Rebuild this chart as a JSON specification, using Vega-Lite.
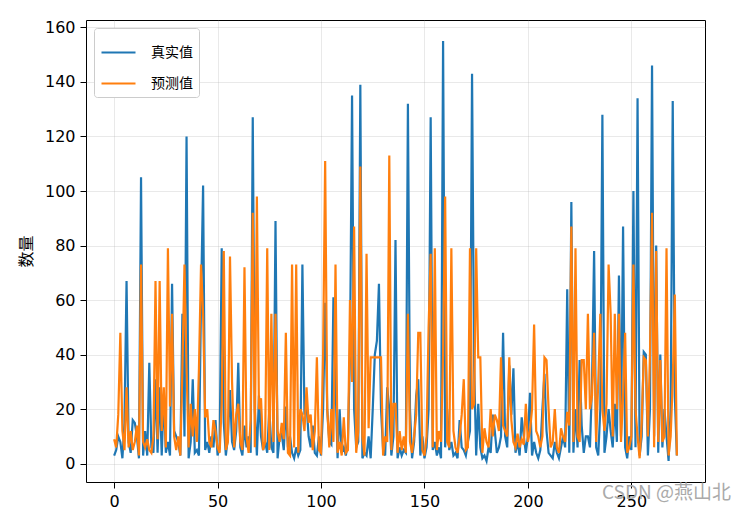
{
"$schema":"https://vega.github.io/schema/vega-lite/v6.json",
"width":619,"height":462,
"autosize":"none",
"padding":{"left":86,"top":20,"right":41,"bottom":33},
"background":"white",
"title":{"text":"CSDN @燕山北","orient":"bottom","anchor":"end","font":"Noto Sans CJK SC","fontSize":19,"fontWeight":"normal","color":"#aaaaaa","dx":26,"offset":-25},
"data":{"values":[
{"x":0,"真实值":3,"预测值":9},{"x":1,"真实值":5,"预测值":6},{"x":2,"真实值":10,"预测值":18},{"x":3,"真实值":8,"预测值":48},{"x":4,"真实值":2,"预测值":12},{"x":5,"真实值":15,"预测值":5},{"x":6,"真实值":67,"预测值":28},{"x":7,"真实值":8,"预测值":6},{"x":8,"真实值":4,"预测值":12},{"x":9,"真实值":16,"预测值":5},
{"x":10,"真实值":15,"预测值":8},{"x":11,"真实值":10,"预测值":14},{"x":12,"真实值":2,"预测值":3},{"x":13,"真实值":105,"预测值":73},{"x":14,"真实值":3,"预测值":8},{"x":15,"真实值":12,"预测值":6},{"x":16,"真实值":3,"预测值":9},{"x":17,"真实值":37,"预测值":5},{"x":18,"真实值":6,"预测值":4},{"x":19,"真实值":4,"预测值":10},
{"x":20,"真实值":31,"预测值":67},{"x":21,"真实值":4,"预测值":9},{"x":22,"真实值":28,"预测值":67},{"x":23,"真实值":3,"预测值":12},{"x":24,"真实值":25,"预测值":28},{"x":25,"真实值":4,"预测值":6},{"x":26,"真实值":8,"预测值":79},{"x":27,"真实值":3,"预测值":21},{"x":28,"真实值":66,"预测值":55},{"x":29,"真实值":12,"预测值":10},
{"x":30,"真实值":10,"预测值":5},{"x":31,"真实值":8,"预测值":10},{"x":32,"真实值":3,"预测值":3},{"x":33,"真实值":55,"预测值":35},{"x":34,"真实值":10,"预测值":73},{"x":35,"真实值":120,"预测值":35},{"x":36,"真实值":2,"预测值":6},{"x":37,"真实值":8,"预测值":22},{"x":38,"真实值":31,"预测值":10},{"x":39,"真实值":4,"预测值":20},
{"x":40,"真实值":5,"预测值":8},{"x":41,"真实值":3,"预测值":35},{"x":42,"真实值":60,"预测值":73},{"x":43,"真实值":102,"预测值":55},{"x":44,"真实值":5,"预测值":17},{"x":45,"真实值":8,"预测值":20},{"x":46,"真实值":4,"预测值":8},{"x":47,"真实值":10,"预测值":6},{"x":48,"真实值":6,"预测值":16},{"x":49,"真实值":16,"预测值":12},
{"x":50,"真实值":3,"预测值":6},{"x":51,"真实值":6,"预测值":4},{"x":52,"真实值":79,"预测值":22},{"x":53,"真实值":15,"预测值":78},{"x":54,"真实值":3,"预测值":5},{"x":55,"真实值":10,"预测值":8},{"x":56,"真实值":27,"预测值":76},{"x":57,"真实值":8,"预测值":30},{"x":58,"真实值":5,"预测值":6},{"x":59,"真实值":12,"预测值":18},
{"x":60,"真实值":37,"预测值":22},{"x":61,"真实值":6,"预测值":8},{"x":62,"真实值":3,"预测值":5},{"x":63,"真实值":14,"预测值":72},{"x":64,"真实值":6,"预测值":10},{"x":65,"真实值":10,"预测值":4},{"x":66,"真实值":4,"预测值":16},{"x":67,"真实值":127,"预测值":92},{"x":68,"真实值":20,"预测值":6},{"x":69,"真实值":3,"预测值":98},
{"x":70,"真实值":25,"预测值":20},{"x":71,"真实值":10,"预测值":24},{"x":72,"真实值":5,"预测值":5},{"x":73,"真实值":8,"预测值":8},{"x":74,"真实值":4,"预测值":79},{"x":75,"真实值":20,"预测值":5},{"x":76,"真实值":6,"预测值":55},{"x":77,"真实值":4,"预测值":8},{"x":78,"真实值":89,"预测值":55},{"x":79,"真实值":2,"预测值":12},
{"x":80,"真实值":10,"预测值":8},{"x":81,"真实值":11,"预测值":15},{"x":82,"真实值":5,"预测值":9},{"x":83,"真实值":21,"预测值":48},{"x":84,"真实值":6,"预测值":4},{"x":85,"真实值":10,"预测值":3},{"x":86,"真实值":4,"预测值":73},{"x":87,"真实值":2,"预测值":6},{"x":88,"真实值":6,"预测值":73},{"x":89,"真实值":3,"预测值":4},
{"x":90,"真实值":5,"预测值":20},{"x":91,"真实值":73,"预测值":18},{"x":92,"真实值":18,"预测值":12},{"x":93,"真实值":22,"预测值":28},{"x":94,"真实值":10,"预测值":15},{"x":95,"真实值":6,"预测值":18},{"x":96,"真实值":14,"预测值":5},{"x":97,"真实值":4,"预测值":12},{"x":98,"真实值":3,"预测值":39},{"x":99,"真实值":10,"预测值":5},
{"x":100,"真实值":3,"预测值":4},{"x":101,"真实值":20,"预测值":40},{"x":102,"真实值":59,"预测值":111},{"x":103,"真实值":20,"预测值":20},{"x":104,"真实值":8,"预测值":6},{"x":105,"真实值":7,"预测值":20},{"x":106,"真实值":61,"预测值":8},{"x":107,"真实值":30,"预测值":73},{"x":108,"真实值":2,"预测值":4},{"x":109,"真实值":20,"预测值":8},
{"x":110,"真实值":4,"预测值":3},{"x":111,"真实值":6,"预测值":17},{"x":112,"真实值":3,"预测值":4},{"x":113,"真实值":8,"预测值":5},{"x":114,"真实值":40,"预测值":60},{"x":115,"真实值":135,"预测值":30},{"x":116,"真实值":20,"预测值":87},{"x":117,"真实值":6,"预测值":4},{"x":118,"真实值":8,"预测值":12},{"x":119,"真实值":139,"预测值":109},
{"x":120,"真实值":2,"预测值":10},{"x":121,"真实值":4,"预测值":3},{"x":122,"真实值":3,"预测值":77},{"x":123,"真实值":10,"预测值":13},{"x":124,"真实值":2,"预测值":39},{"x":125,"真实值":20,"预测值":39},{"x":126,"真实值":40,"预测值":39},{"x":127,"真实值":45,"预测值":39},{"x":128,"真实值":66,"预测值":39},{"x":129,"真实值":20,"预测值":39},
{"x":130,"真实值":5,"预测值":3},{"x":131,"真实值":3,"预测值":10},{"x":132,"真实值":28,"预测值":8},{"x":133,"真实值":20,"预测值":113},{"x":134,"真实值":3,"预测值":5},{"x":135,"真实值":10,"预测值":22},{"x":136,"真实值":82,"预测值":22},{"x":137,"真实值":2,"预测值":4},{"x":138,"真实值":6,"预测值":12},{"x":139,"真实值":3,"预测值":5},
{"x":140,"真实值":5,"预测值":10},{"x":141,"真实值":4,"预测值":4},{"x":142,"真实值":132,"预测值":55},{"x":143,"真实值":20,"预测值":8},{"x":144,"真实值":2,"预测值":4},{"x":145,"真实值":8,"预测值":10},{"x":146,"真实值":25,"预测值":18},{"x":147,"真实值":31,"预测值":48},{"x":148,"真实值":3,"预测值":48},{"x":149,"真实值":10,"预测值":5},
{"x":150,"真实值":2,"预测值":3},{"x":151,"真实值":6,"预测值":10},{"x":152,"真实值":20,"预测值":50},{"x":153,"真实值":127,"预测值":77},{"x":154,"真实值":5,"预测值":6},{"x":155,"真实值":8,"预测值":79},{"x":156,"真实值":3,"预测值":5},{"x":157,"真实值":6,"预测值":12},{"x":158,"真实值":2,"预测值":8},{"x":159,"真实值":155,"预测值":40},
{"x":160,"真实值":6,"预测值":98},{"x":161,"真实值":20,"预测值":8},{"x":162,"真实值":5,"预测值":6},{"x":163,"真实值":8,"预测值":79},{"x":164,"真实值":3,"预测值":12},{"x":165,"真实值":4,"预测值":6},{"x":166,"真实值":2,"预测值":4},{"x":167,"真实值":16,"预测值":10},{"x":168,"真实值":6,"预测值":18},{"x":169,"真实值":5,"预测值":31},
{"x":170,"真实值":3,"预测值":5},{"x":171,"真实值":8,"预测值":6},{"x":172,"真实值":12,"预测值":79},{"x":173,"真实值":143,"预测值":20},{"x":174,"真实值":36,"预测值":22},{"x":175,"真实值":3,"预测值":79},{"x":176,"真实值":22,"预测值":39},{"x":177,"真实值":6,"预测值":39},{"x":178,"真实值":2,"预测值":4},{"x":179,"真实值":3,"预测值":13},
{"x":180,"真实值":1,"预测值":8},{"x":181,"真实值":6,"预测值":6},{"x":182,"真实值":4,"预测值":20},{"x":183,"真实值":18,"预测值":10},{"x":184,"真实值":12,"预测值":18},{"x":185,"真实值":4,"预测值":16},{"x":186,"真实值":6,"预测值":12},{"x":187,"真实值":10,"预测值":39},{"x":188,"真实值":48,"预测值":14},{"x":189,"真实值":10,"预测值":12},
{"x":190,"真实值":6,"预测值":10},{"x":191,"真实值":36,"预测值":39},{"x":192,"真实值":18,"预测值":16},{"x":193,"真实值":35,"预测值":8},{"x":194,"真实值":4,"预测值":6},{"x":195,"真实值":8,"预测值":11},{"x":196,"真实值":3,"预测值":6},{"x":197,"真实值":17,"预测值":9},{"x":198,"真实值":10,"预测值":7},{"x":199,"真实值":4,"预测值":22},
{"x":200,"真实值":10,"预测值":8},{"x":201,"真实值":26,"预测值":12},{"x":202,"真实值":3,"预测值":20},{"x":203,"真实值":8,"预测值":51},{"x":204,"真实值":4,"预测值":12},{"x":205,"真实值":2,"预测值":10},{"x":206,"真实值":5,"预测值":6},{"x":207,"真实值":20,"预测值":10},{"x":208,"真实值":33,"预测值":39},{"x":209,"真实值":12,"预测值":38},
{"x":210,"真实值":4,"预测值":20},{"x":211,"真实值":3,"预测值":6},{"x":212,"真实值":2,"预测值":8},{"x":213,"真实值":8,"预测值":20},{"x":214,"真实值":4,"预测值":6},{"x":215,"真实值":2,"预测值":4},{"x":216,"真实值":6,"预测值":13},{"x":217,"真实值":10,"预测值":10},{"x":218,"真实值":6,"预测值":8},{"x":219,"真实值":64,"预测值":19},
{"x":220,"真实值":4,"预测值":14},{"x":221,"真实值":96,"预测值":87},{"x":222,"真实值":4,"预测值":8},{"x":223,"真实值":20,"预测值":79},{"x":224,"真实值":6,"预测值":10},{"x":225,"真实值":38,"预测值":8},{"x":226,"真实值":14,"预测值":38},{"x":227,"真实值":4,"预测值":38},{"x":228,"真实值":10,"预测值":20},{"x":229,"真实值":10,"预测值":55},
{"x":230,"真实值":6,"预测值":20},{"x":231,"真实值":30,"预测值":25},{"x":232,"真实值":78,"预测值":48},{"x":233,"真实值":6,"预测值":8},{"x":234,"真实值":3,"预测值":30},{"x":235,"真实值":20,"预测值":55},{"x":236,"真实值":128,"预测值":20},{"x":237,"真实值":4,"预测值":12},{"x":238,"真实值":10,"预测值":22},{"x":239,"真实值":20,"预测值":73},
{"x":240,"真实值":12,"预测值":55},{"x":241,"真实值":6,"预测值":10},{"x":242,"真实值":22,"预测值":55},{"x":243,"真实值":8,"预测值":20},{"x":244,"真实值":69,"预测值":55},{"x":245,"真实值":10,"预测值":8},{"x":246,"真实值":87,"预测值":25},{"x":247,"真实值":6,"预测值":48},{"x":248,"真实值":2,"预测值":4},{"x":249,"真实值":10,"预测值":6},
{"x":250,"真实值":5,"预测值":10},{"x":251,"真实值":100,"预测值":73},{"x":252,"真实值":6,"预测值":20},{"x":253,"真实值":134,"预测值":10},{"x":254,"真实值":3,"预测值":2},{"x":255,"真实值":10,"预测值":15},{"x":256,"真实值":41,"预测值":39},{"x":257,"真实值":40,"预测值":38},{"x":258,"真实值":3,"预测值":10},{"x":259,"真实值":20,"预测值":40},
{"x":260,"真实值":146,"预测值":92},{"x":261,"真实值":10,"预测值":6},{"x":262,"真实值":80,"预测值":78},{"x":263,"真实值":4,"预测值":8},{"x":264,"真实值":40,"预测值":38},{"x":265,"真实值":6,"预测值":8},{"x":266,"真实值":20,"预测值":10},{"x":267,"真实值":10,"预测值":79},{"x":268,"真实值":1,"预测值":3},{"x":269,"真实值":20,"预测值":10},
{"x":270,"真实值":133,"预测值":30},{"x":271,"真实值":25,"预测值":62},{"x":272,"真实值":3,"预测值":3}
]},
"transform":[{"fold":["真实值","预测值"],"as":["series","value"]}],
"mark":{"type":"line","strokeWidth":2.2,"clip":true},
"encoding":{
"x":{"field":"x","type":"quantitative","scale":{"domain":[-13.6,285.6],"nice":false,"zero":false},"axis":{"values":[0,50,100,150,200,250],"title":null}},
"y":{"field":"value","type":"quantitative","scale":{"domain":[-6.7,162.7],"nice":false,"zero":false},"axis":{"values":[0,20,40,60,80,100,120,140,160],"title":"数量","titleFont":"Noto Sans CJK SC","titlePadding":10}},
"color":{"field":"series","type":"nominal","scale":{"domain":["真实值","预测值"],"range":["#1f77b4","#ff7f0e"]},"legend":{"title":null,"orient":"top-left","offset":8}}
},
"config":{
"font":"DejaVu Sans",
"view":{"stroke":"black","strokeWidth":1},
"axis":{"domain":false,"tickColor":"black","tickSize":6,"tickWidth":1,"labelFontSize":16,"labelColor":"black","labelPadding":5,"gridColor":"#b0b0b0","gridOpacity":0.35,"gridWidth":0.8,"titleFontSize":16,"titleFontWeight":"normal","titleColor":"black"},
"legend":{"padding":6,"strokeColor":"#cccccc","fillColor":"#ffffff","cornerRadius":3,"symbolType":"stroke","symbolSize":1156,"symbolStrokeWidth":2.2,"labelFontSize":14,"labelFont":"Noto Sans CJK SC","labelColor":"black","rowPadding":5,"labelOffset":14}
}
}
